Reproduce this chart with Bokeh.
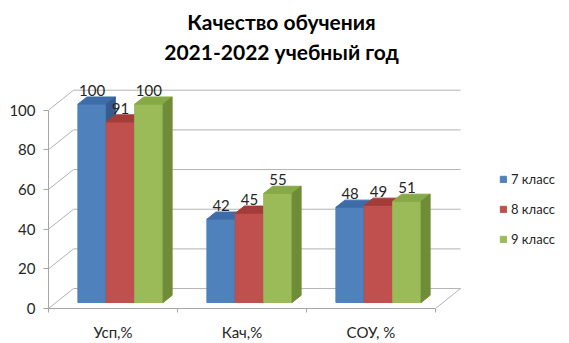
import numpy as np
from bokeh.plotting import figure
from bokeh.models import Range1d, FixedTicker, Label, Legend, LegendItem
from bokeh.core.properties import value
from bokeh.embed import file_html
from bokeh.resources import INLINE

# ---------------- data ----------------
categories = ["Усп,%", "Кач,%", "СОУ, %"]
series_names = ["7 класс", "8 класс", "9 класс"]
grade7 = [100, 42, 48]
grade8 = [91, 45, 49]
grade9 = [100, 55, 51]
y_ticks = [0, 20, 40, 60, 80, 100]
title_line1 = "Качество обучения"
title_line2 = "2021-2022 учебный год"

# ---------------- style ----------------
FONT = "Lato"
front_colors = ["#4F81BD", "#C0504D", "#9BBB59"]
top_colors = ["#3E6CA8", "#A43C39", "#88A947"]
side_colors = ["#365C8E", "#8E2F2C", "#6F8C37"]
grid_color = "#b3b3b3"

W, H = 569, 343
left_b, bottom_b = 48, 34
px_x = 129.0          # pixels per category
px_y = 1.99           # pixels per value unit
frame_w = W - left_b
frame_h = H - bottom_b

p = figure(width=W, height=H, output_backend="svg", toolbar_location=None,
           x_range=Range1d(0, frame_w / px_x), y_range=Range1d(0, frame_h / px_y),
           min_border_left=left_b, min_border_right=0, min_border_top=0,
           min_border_bottom=bottom_b, outline_line_color=None)
p.xgrid.visible = False
p.ygrid.visible = False

# 3D depth (data units)
wx, wy = 25 / px_x, 20 / px_y          # full wall depth
f_fr, b_fr = 0.30, 0.66                 # bar front/back depth fractions
n_cat = len(categories)

# back wall gridlines + left wall
gx, gy = [], []
for v in y_ticks:
    gx.append([0, wx, n_cat + wx])
    gy.append([v, v + wy, v + wy])
# floor right edge
gx.append([n_cat, n_cat + wx])
gy.append([0, wy])
p.multi_line(gx, gy, line_color=grid_color, line_width=1)

# bars
bw = 28.4 / px_x
values_all = [grade7, grade8, grade9]
legend_items = []
lab_x, lab_y, lab_t = [], [], []
for j, vals in enumerate(values_all):
    xl = np.arange(n_cat) + 0.5 - 1.5 * bw + j * bw
    xr = xl + bw
    v = np.array(vals, dtype=float)
    fx, fy = f_fr * wx, f_fr * wy
    bx, by = b_fr * wx, b_fr * wy
    # top faces
    tx = [[a + fx, b + fx, b + bx, a + bx] for a, b in zip(xl, xr)]
    ty = [[h + fy, h + fy, h + by, h + by] for h in v]
    # side faces
    sx = [[b + fx, b + bx, b + bx, b + fx] for b in xr]
    sy = [[fy, by, h + by, h + fy] for h in v]
    r_front = p.quad(left=xl + fx, right=xr + fx, bottom=fy, top=v + fy,
                     fill_color=front_colors[j], line_color=front_colors[j])
    p.patches(tx, ty, fill_color=top_colors[j], line_color=top_colors[j])
    p.patches(sx, sy, fill_color=side_colors[j], line_color=side_colors[j])
    legend_items.append(LegendItem(label=series_names[j], renderers=[r_front]))
    lab_x += list((xl + xr) / 2 + fx)
    lab_y += list(v + by)
    lab_t += [str(int(x)) for x in vals]

p.text(x=lab_x, y=lab_y, text=lab_t, text_align="center", text_baseline="bottom",
       y_offset=-1, text_font=value(FONT), text_font_size="15px", text_color="#262626")

# y axis
ya = p.yaxis[0]
ya.ticker = FixedTicker(ticks=y_ticks)
ya.bounds = (0, 100)
ya.axis_line_color = "#a6a6a6"
ya.major_tick_line_color = "#a6a6a6"
ya.major_tick_out = 5
ya.major_tick_in = 0
ya.minor_tick_line_color = None
ya.major_label_text_font = FONT
ya.major_label_text_font_size = "15px"
ya.major_label_text_color = "#262626"
ya.major_label_standoff = 8

# x axis
xa = p.xaxis[0]
xa.ticker = FixedTicker(ticks=[i + 0.5 for i in range(n_cat)],
                        minor_ticks=list(range(n_cat + 1)))
xa.major_label_overrides = {i + 0.5: c for i, c in enumerate(categories)}
xa.bounds = (0, n_cat)
xa.axis_line_color = "#a6a6a6"
xa.major_tick_line_color = None
xa.major_tick_out = 0
xa.major_tick_in = 0
xa.minor_tick_line_color = "#a6a6a6"
xa.minor_tick_out = 4
xa.minor_tick_in = 0
xa.major_label_text_font = FONT
xa.major_label_text_font_size = "15px"
xa.major_label_text_color = "#262626"
xa.major_label_standoff = 10

# legend
legend = Legend(items=legend_items, location=(451, 61), orientation="vertical",
                glyph_width=8, glyph_height=8, label_standoff=4, spacing=14,
                label_height=16, padding=0, margin=0, border_line_color=None,
                background_fill_alpha=0, label_text_font=FONT,
                label_text_font_size="13px", label_text_color="#262626")
p.add_layout(legend)

# title
for txt, yy in [(title_line1, frame_h - 22), (title_line2, frame_h - 52)]:
    p.add_layout(Label(x=233, y=yy, x_units="screen", y_units="screen", text=txt,
                       text_align="center", text_baseline="middle",
                       text_font=FONT, text_font_style="bold",
                       text_font_size="21px", text_color="#000000"))

open("out.html", "w").write(file_html(p, INLINE))
